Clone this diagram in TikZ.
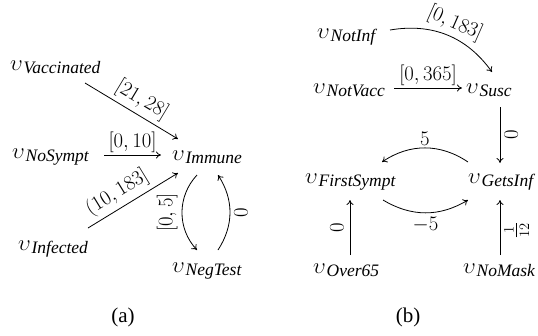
\documentclass[tikz,border=0pt]{standalone}
\usepackage{amsmath}
\usepackage{graphicx}
\usepackage[no-math]{fontspec}
\setmainfont{Liberation Serif}
\usetikzlibrary{arrows.meta}
\newcommand{\vn}[1]{{\fontsize{20.74}{24}\selectfont\scalebox{1.08}{$\upsilon$}}\kern0.8pt{\fontsize{17.5}{17.5}\selectfont\itshape\raisebox{-3pt}{#1}}}
\tikzset{
  vnode/.style={inner sep=4pt, anchor=base west, font=\fontsize{20}{24}\selectfont},
  conn/.style={-{To[length=5pt,width=7pt]}, line width=0.8pt},
  lab/.style={font=\fontsize{20.74}{24}\selectfont, inner sep=2pt},
  slab/.style={font=\fontsize{20.74}{24}\selectfont, inner sep=4pt, sloped, above},
  rlab/.style={font=\fontsize{20.74}{24}\selectfont, inner sep=4pt, rotate=90},
  captext/.style={font=\fontsize{21}{25}\selectfont}
}
\begin{document}
\begin{tikzpicture}[x=1pt,y=-1pt]
\useasboundingbox (0,0) rectangle (538,335);
% panel (a)
\node[vnode] (vac) at (6,70) {\vn{Vaccinated}};
\node[vnode] (nos) at (8,158) {\vn{NoSympt}};
\node[vnode] (inf) at (14,250) {\vn{Infected}};
\node[vnode] (imm) at (168,160) {\vn{Immune}};
\node[vnode] (neg) at (168,272) {\vn{NegTest}};
\draw[conn] ([shift={(79,13)}]vac.base west) -- node[slab, pos=0.53] {$[21,28]$} ([shift={(10,-21)}]imm.base west);
\draw[conn] ([shift={(96,-3)}]nos.base west) -- node[lab, above] {$[0,10]$} ([shift={(-7,-5)}]imm.base west);
\draw[conn] ([shift={(74,-22)}]inf.base west) -- node[slab, pos=0.41] {$(10,183]$} ([shift={(10,13)}]imm.base west);
\draw[conn] ([shift={(29,15)}]imm.base west) to[bend right=43] node[rlab, anchor=south] {$[0,5]$} ([shift={(29,-22)}]neg.base west);
\draw[conn] ([shift={(50,-22)}]neg.base west) to[bend right=33] node[rlab, anchor=north] {$0$} ([shift={(50,15)}]imm.base west);
% panel (b)
\node[vnode] (notinf) at (313,38) {\vn{NotInf}};
\node[vnode] (notvacc) at (309,93) {\vn{NotVacc}};
\node[vnode] (susc) at (462,93) {\vn{Susc}};
\node[vnode] (first) at (301,183) {\vn{FirstSympt}};
\node[vnode] (gets) at (464,183) {\vn{GetsInf}};
\node[vnode] (over) at (309,273) {\vn{Over65}};
\node[vnode] (nomask) at (459,273) {\vn{NoMask}};
\draw[conn] ([shift={(77,-8)}]notinf.base west) to[bend left=32] node[slab, pos=0.52, inner sep=3pt] {$[0,183]$} ([shift={(30,-21)}]susc.base west);
\draw[conn] ([shift={(85,-5)}]notvacc.base west) -- node[lab, above] {$[0,365]$} ([shift={(0,-5)}]susc.base west);
\draw[conn] ([shift={(38,14)}]susc.base west) -- node[rlab, anchor=north] {$0$} ([shift={(36,-20)}]gets.base west);
\draw[conn] ([shift={(4,-21)}]gets.base west) to[bend right=34] node[lab, above] {$5$} ([shift={(81,-21)}]first.base west);
\draw[conn] ([shift={(82,17)}]first.base west) to[bend right=31] node[lab, below, inner sep=4pt] {$-5$} ([shift={(4,17)}]gets.base west);
\draw[conn] ([shift={(41,-18)}]over.base west) -- node[rlab, anchor=south, inner sep=6pt] {$0$} ([shift={(49,17)}]first.base west);
\draw[conn] ([shift={(41,-18)}]nomask.base west) -- node[rlab, anchor=north, pos=0.45] {$\frac{1}{12}$} ([shift={(36,17)}]gets.base west);
% captions
\node[captext] (capa) at (123,317) {(a)};
\node[captext] (capb) at (408,317) {(b)};
\end{tikzpicture}
\end{document}
